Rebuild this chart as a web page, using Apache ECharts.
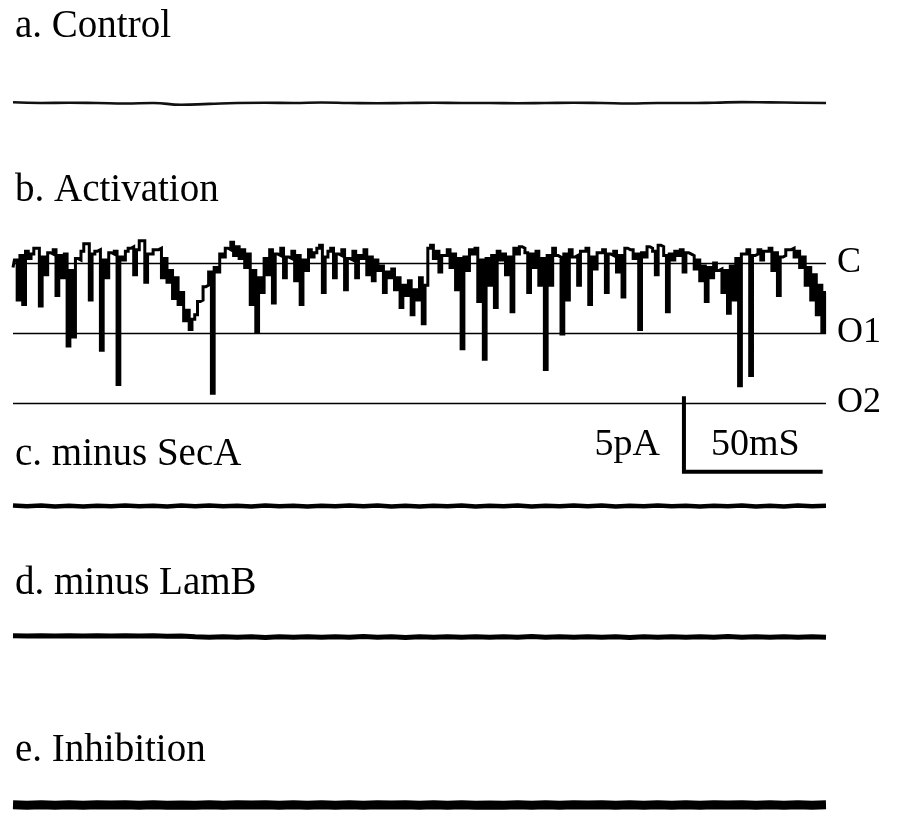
<!DOCTYPE html>
<html>
<head>
<meta charset="utf-8">
<script src="https://cdn.jsdelivr.net/npm/echarts@6/dist/echarts.min.js"></script>
<style>html,body{margin:0;padding:0;background:#fff}#c{width:899px;height:814px}</style>
</head>
<body>
<div id="c"></div>
<script>
// ---- data (time in ms, current in pA) ----
const panelTitles = ['a. Control', 'b. Activation', 'c. minus SecA', 'd. minus LamB', 'e. Inhibition'];
const levelNames = ['C', 'O1', 'O2'];
const levelValues = [0, -4.73, -9.46];
const scaleBarLabels = ['5pA', '50mS'];
const scaleBarPA = 5;
const scaleBarMS = 50;

// activation trace: lowest excursion (even ms) and upper envelope (odd ms) in each 2 ms bin
const activationStep = 2;
const activationLow = [
  -0.3,-2.5,-2.8,0.3,1.0,-2.9,-0.8,0.6,-2.2,-1.0,
  -5.6,-5.0,0.2,1.3,-2.5,0.8,-5.9,-1.0,0.6,-8.2,
  0.2,1.0,-0.8,1.5,-1.3,0.6,0.9,-1.0,-1.3,-2.4,
  -2.8,-3.9,-4.5,-3.5,-2.5,-1.5,-8.8,-0.6,0.4,0.9,
  0.5,0.3,-0.3,-2.8,-4.7,-2.0,-0.8,-2.7,0.5,-1.0,
  0.3,-1.2,-2.8,-0.5,0.4,1.0,-2.0,0.8,-1.0,0.5,
  -1.8,0.2,-1.0,0.3,-0.8,-1.2,-0.5,-2.0,-1.0,-1.8,
  -3.0,-2.2,-3.5,-2.5,-4.1,1.0,0.3,-0.6,0.5,-0.3,
  -1.8,-5.8,-0.5,0.6,-2.6,-6.5,-1.5,-3.0,0.2,-0.8,
  -3.3,0.6,1.0,-2.0,-0.3,-1.5,-7.2,-1.5,0.5,-4.8,
  -2.5,0.4,-1.5,0.8,-2.8,-0.4,0.7,-2.0,0.5,-0.6,
  -2.3,0.9,0.3,-4.5,0.4,1.0,-0.8,1.1,-3.3,0.2,
  0.5,-0.6,0.6,-0.4,-1.2,-2.6,-1.0,-0.5,-2.0,-3.4,
  -2.5,-8.3,0.6,-7.6,0.6,0.2,0.8,-0.5,-2.2,0.5,
  0.9,0.4,-0.3,-1.5,-2.5,-3.5,-4.7
];
const activationHigh = [
  0.2,0.5,0.8,0.6,1.0,0.4,0.7,0.9,0.5,0.6,
  -0.5,0.3,0.8,1.3,0.6,0.9,0.2,0.7,0.8,0.4,
  0.8,1.1,0.9,1.5,0.6,0.9,1.0,0.3,
  -0.5,-1.0,-2.0,-3.2,-3.8,-2.6,-1.6,-0.6,
  -0.3,0.6,1.0,1.4,1.1,0.9,0.6,
  -0.5,-1.0,
  0.3,0.9,0.6,1.0,0.4,0.8,0.5,0.2,0.9,0.7,1.2,0.4,1.0,0.6,0.9,0.3,0.8,0.5,0.9,0.4,0.2,
  -0.2,-0.6,-0.4,-1.0,-1.5,-1.2,-1.8,-1.0,-1.5,
  1.2,0.8,0.5,0.9,0.6,0.3,0.4,0.9,1.0,0.2,0.3,0.5,0.8,0.6,0.4,1.0,1.1,0.7,0.6,0.8,0.3,0.5,1.0,0.4,0.6,0.9,0.5,0.8,
  1.0,0.4,0.7,0.9,0.6,0.8,0.5,1.0,0.9,0.6,0.7,1.1,0.8,1.2,0.5,0.6,0.8,0.9,0.7,0.5,0.2,-0.2,-0.3,0.0,-0.4,-0.5,-0.2,0.3,
  0.6,0.9,0.5,0.9,0.8,1.0,0.7,0.4,0.9,1.0,0.8,0.4,-0.3,-0.8,-1.5,-2.0
];

// flat traces (evenly sampled over the whole sweep)
const controlValues = [0.05,0.0,0.02,0.0,-0.03,0.0,-0.12,-0.06,0.0,0.02,0.0,0.03,0.0,-0.02,0.0,0.02,0.0,0.0,-0.02,0.0,0.02,0.0,-0.03,0.0,0.0,0.02,0.06,0.04,0.02,0.0];
const secAValues = [0.03,-0.02,0.04,-0.03,0.02,-0.04,0.02,-0.02,0.04,-0.02,0.01,-0.03,0.03,-0.02,0.04,-0.01,0.02,-0.03,0.04,-0.02,0.02,-0.04,0.02,-0.02,0.03,-0.01,0.04,-0.03,0.02,-0.03,0.01,-0.02,0.04,-0.03,0.02,-0.01,0.03,-0.04,0.02,-0.02,0.04,-0.02,0.03,-0.03,0.01,-0.02,0.04,-0.02,0.02,-0.03,0.02,-0.01,0.03,-0.03,0.02,-0.04,0.03,-0.02,0.02];
const lamBValues = [0.08,0.06,0.09,0.07,0.08,0.06,0.09,0.07,0.08,0.06,0.09,0.05,0.06,0.01,-0.01,0.02,-0.02,0.01,-0.03,0.02,-0.01,0.02,-0.02,0.01,-0.02,0.03,-0.01,0.01,-0.03,0.02,-0.01,0.02,-0.02,0.01,-0.02,0.01,-0.01,0.03,-0.02,0.01,-0.02,0.02,-0.01,0.02,-0.03,0.01,-0.01,0.02,-0.02,0.01,-0.02,0.03,-0.01,0.01,-0.02,0.02,-0.01,0.01,-0.02];
const inhibitionValues = [0.03,-0.02,0.04,-0.03,0.02,-0.04,0.02,-0.01,0.03,-0.02,0.03,-0.03,0.01,-0.02,0.04,-0.02,0.04,-0.01,0.02,-0.03,0.03,-0.02,0.03,-0.03,0.02,-0.02,0.04,-0.01,0.03,-0.03,0.02,-0.02,0.03,-0.03,0.01,-0.02,0.04,-0.02,0.03,-0.03,0.02,-0.01,0.03,-0.03,0.02,-0.02,0.04,-0.02,0.03,-0.02,0.03,-0.01,0.02,-0.03,0.02,-0.02,0.03,-0.02,0.02];

// ---- build ----
const T_MAX = 293;
const FONT = '"Liberation Serif", "Times New Roman", serif';
const LEFT = 13, WIDTH = 813;
const spread = vals => vals.map((v, i) => [i * T_MAX / (vals.length - 1), v]);
const activationData = [];
activationLow.forEach((v, i) => {
  activationData.push([i * activationStep, v]);
  activationData.push([i * activationStep + activationStep / 2, activationHigh[i]]);
});

const grids = [
  {left: LEFT, width: WIDTH, top: 88, height: 30},
  {left: LEFT, width: WIDTH, top: 226, height: 247.2},
  {left: LEFT, width: WIDTH, top: 491, height: 30},
  {left: LEFT, width: WIDTH, top: 622, height: 30},
  {left: LEFT, width: WIDTH, top: 796, height: 30}
];
const yRanges = [[-1, 1], [-14.2, 2.5], [-1, 1], [-1, 1], [-1, 1]];

const xAxes = grids.map((g, i) => ({type: 'value', gridIndex: i, min: 0, max: T_MAX, show: false}));
const yAxes = grids.map((g, i) => ({type: 'value', gridIndex: i, min: yRanges[i][0], max: yRanges[i][1], show: false}));

const barX = T_MAX - 1.2 - scaleBarMS;
const barBottom = -14.1;
const barTop = barBottom + scaleBarPA + 0.1;

const series = [
  {type: 'line', xAxisIndex: 0, yAxisIndex: 0, data: spread(controlValues), showSymbol: false, smooth: true,
   lineStyle: {color: '#111', width: 2.6}},
  {type: 'line', xAxisIndex: 1, yAxisIndex: 1, data: activationData, showSymbol: false, step: 'middle',
   lineStyle: {color: '#000', width: 3, join: 'miter'},
   markLine: {silent: true, symbol: 'none', animation: false,
     lineStyle: {color: '#000', width: 1.3, type: 'solid'},
     label: {show: true, position: 'end', formatter: '{b}', distance: 11, color: '#000', fontFamily: FONT, fontSize: 36},
     data: levelNames.map((n, i) => ({name: n, yAxis: levelValues[i]}))}},
  {type: 'line', xAxisIndex: 1, yAxisIndex: 1, data: [[barX, barTop], [barX, barBottom], [barX + scaleBarMS, barBottom]],
   showSymbol: false, lineStyle: {color: '#000', width: 4, join: 'miter'}},
  {type: 'line', xAxisIndex: 2, yAxisIndex: 2, data: spread(secAValues), showSymbol: false,
   lineStyle: {color: '#000', width: 4.5}},
  {type: 'line', xAxisIndex: 3, yAxisIndex: 3, data: spread(lamBValues), showSymbol: false,
   lineStyle: {color: '#000', width: 5}},
  {type: 'line', xAxisIndex: 4, yAxisIndex: 4, data: spread(inhibitionValues), showSymbol: false,
   lineStyle: {color: '#000', width: 9}}
];

const titleY = [27, 191, 455, 584, 751];
const graphic = panelTitles.map((t, i) => ({
  type: 'text', x: 15, y: titleY[i],
  style: {text: t, fill: '#000', font: '39px ' + FONT, textAlign: 'left', textVerticalAlign: 'middle'}
}));
graphic.push({type: 'text', x: 660, y: 445, style: {text: scaleBarLabels[0], fill: '#000', font: '38px ' + FONT, textAlign: 'right', textVerticalAlign: 'middle'}});
graphic.push({type: 'text', x: 711, y: 445, style: {text: scaleBarLabels[1], fill: '#000', font: '38px ' + FONT, textAlign: 'left', textVerticalAlign: 'middle'}});

const chart = echarts.init(document.getElementById('c'), null, {renderer: 'canvas'});
chart.setOption({
  animation: false,
  backgroundColor: '#fff',
  grid: grids,
  xAxis: xAxes,
  yAxis: yAxes,
  series: series,
  graphic: graphic
});
</script>
</body>
</html>
